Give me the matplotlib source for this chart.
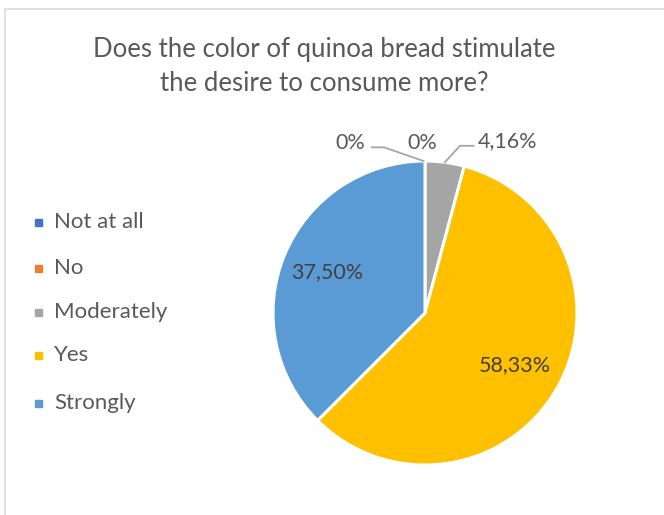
import matplotlib.pyplot as plt
import numpy as np
from matplotlib.patches import Rectangle

categories = ["Not at all", "No", "Moderately", "Yes", "Strongly"]
values = [0.0, 0.0, 4.16, 58.33, 37.50]
value_labels = ["0%", "0%", "4,16%", "58,33%", "37,50%"]
colors = ["#4472C4", "#ED7D31", "#A5A5A5", "#FFC000", "#5B9BD5"]
title = "Does the color of quinoa bread stimulate\nthe desire to consume more?"

text_color = "#595959"
font = "Lato"

W, H = 664, 515
fig = plt.figure(figsize=(W / 100, H / 100), dpi=100)

# chart-area border
fig.patches.append(Rectangle((5 / W, -0.1), 1.2, (H - 9) / H + 0.1,
                             transform=fig.transFigure, fill=False,
                             edgecolor="#D9D9D9", linewidth=1.2))

fig.text(324 / W, 1 - 66.5 / H, title, ha="center", va="center",
         fontsize=18.5, color=text_color, family=font, linespacing=1.46)

# pie
cx, cy, r = 425, 313, 152
ax = fig.add_axes([(cx - r) / W, (H - cy - r) / H, 2 * r / W, 2 * r / H])
wedges, _ = ax.pie(values, colors=colors, startangle=90, counterclock=False,
                   radius=1.0,
                   wedgeprops=dict(edgecolor="white", linewidth=2.2))
ax.set_xlim(-1, 1)
ax.set_ylim(-1, 1)
ax.set_aspect("equal")
ax.axis("off")

# inside labels for the large slices
inside_r = {3: 0.68, 4: 0.70}
for i, dist in inside_r.items():
    w = wedges[i]
    ang = np.deg2rad((w.theta1 + w.theta2) / 2)
    ax.text(dist * np.cos(ang), dist * np.sin(ang), value_labels[i],
            ha="center", va="center", fontsize=15.5, color="#404040", family=font)

# outside labels for the small slices
outside = {0: (-0.49, 1.12), 1: (-0.02, 1.12), 2: (0.54, 1.13)}
for i, (tx, ty) in outside.items():
    ax.text(tx, ty, value_labels[i], ha="center", va="center",
            fontsize=15.5, color=text_color, family=font, clip_on=False)

line_kw = dict(color="#A6A6A6", linewidth=1.3, clip_on=False)
# leader for the first zero slice
w = wedges[0]
ang = np.deg2rad(w.theta1)
ex, ey = np.cos(ang), np.sin(ang)
ax.plot([-0.35, -0.27, ex - 0.01], [1.09, 1.09, ey], **line_kw)
# leader for the moderately slice
w = wedges[2]
ang = np.deg2rad((w.theta1 + w.theta2) / 2)
ex, ey = np.cos(ang), np.sin(ang)
ax.plot([0.32, 0.23, ex], [1.10, 1.10, ey], **line_kw)

# legend
ys = [222, 268, 312, 355, 403]
for name, col, y in zip(categories, colors, ys):
    fig.patches.append(Rectangle((35 / W, 1 - (y + 3.5) / H), 7 / W, 7 / H,
                                 transform=fig.transFigure, color=col))
    fig.text(54 / W, 1 - y / H, name, ha="left", va="center",
             fontsize=16, color=text_color, family=font)

fig.savefig("out.png", dpi=100)
